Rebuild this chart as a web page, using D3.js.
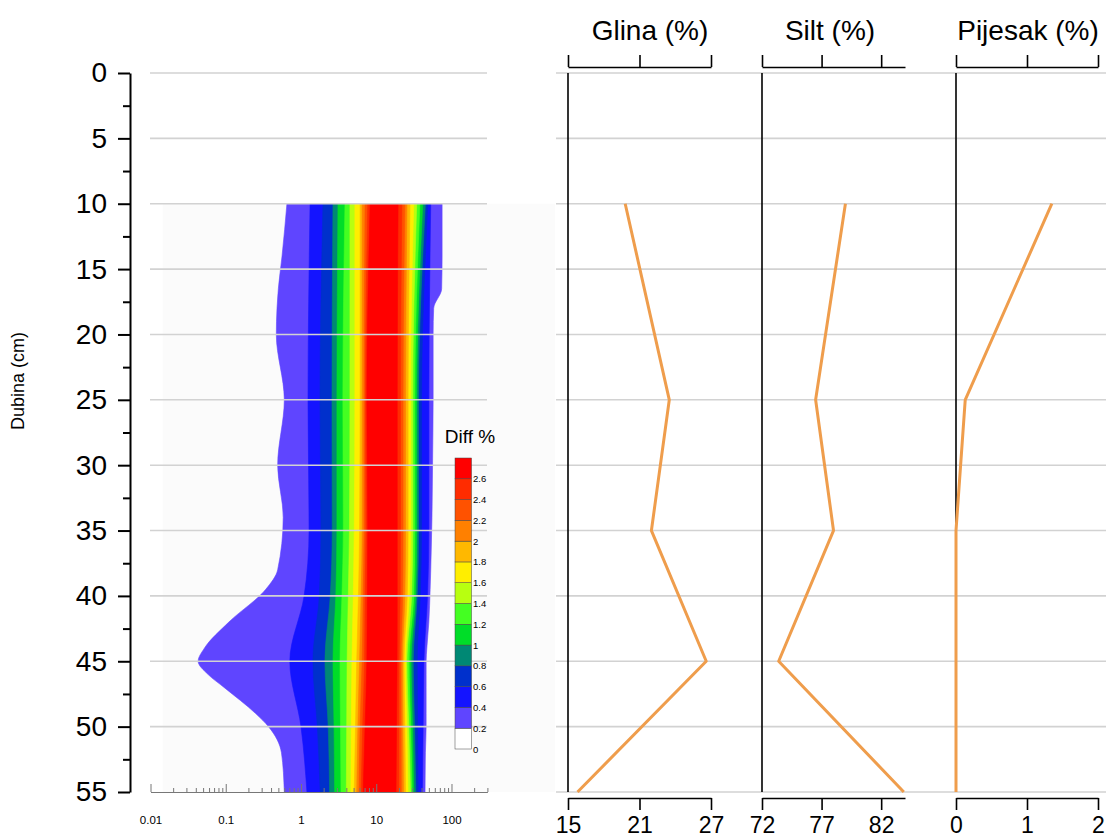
<!DOCTYPE html>
<html><head><meta charset="utf-8">
<script src="https://cdn.jsdelivr.net/npm/d3@7"></script>
<style>
body{margin:0;background:#fff}
svg{display:block}
text{font-family:"Liberation Sans",Arial,Helvetica,sans-serif;fill:#000}
</style>
</head><body>
<svg id="chart" width="1110" height="839"></svg>
<script>
// ---------- data ----------
const depthTicks = [0,5,10,15,20,25,30,35,40,45,50,55];
const depthMinor = [2.5,7.5,12.5,17.5,22.5,27.5,32.5,37.5,42.5,47.5,52.5];

const sampleDepths = [10,25,35,45,55];
const glina   = [19.8, 23.5, 22.0, 26.6, 15.8];
const silt    = [79.0, 76.5, 78.0, 73.4, 83.9];
const pijesak = [1.35, 0.13, 0.0, 0.0, 0.0];

const glinaTicks = [15,21,27];
const siltTicks = [72,77,82];
const pijesakTicks = [0,1,2];

const sizeMajor = [0.01,0.1,1,10,100];
const sizeMinor = [0.02,0.03,0.04,0.05,0.06,0.07,0.08,0.09,
                   0.2,0.3,0.4,0.5,0.6,0.7,0.8,0.9,
                   2,3,4,5,6,7,8,9,20,30,40,50,60,70,80,90,200,300];

// contour levels (Diff %) and colours
const levels = [0,0.2,0.4,0.6,0.8,1.0,1.2,1.4,1.6,1.8,2.0,2.2,2.4,2.6,2.8];
const levelLabels = ["0","0.2","0.4","0.6","0.8","1","1.2","1.4","1.6","1.8","2","2.2","2.4","2.6"];
const levelColors = ["#ffffff","#5f45ff","#1414ff","#0030cc","#008874","#00dd28","#44ff22",
                     "#b8ff10","#ffee00","#ffb800","#ff8000","#ff5200","#ff2c00","#ff0000"];

// outer (0.2 %) contour boundary, particle size in µm
const outerDepths = [10,14,16.5,18,20,25,30,34,38,39.5,42,44,45,46,47,49,50,52,55];
const outerLeft   = [0.65,0.56,0.50,0.48,0.47,0.60,0.49,0.58,0.49,0.34,0.11,0.052,0.043,0.058,0.095,0.25,0.37,0.55,0.60];
const outerRight  = [75,75,74,58,57,57,56,55,53,52,50,47,46,46,46,46,46,45,44.5];

// inner contour boundaries (levels 0.4 .. 2.6), particle size in µm
const innerDepths = [10,25,35,40,45,50,55];
const innerLeft = [
  [1.32,1.24,1.28,1.10,0.71,1.00,1.20],
  [1.96,1.79,1.84,1.75,1.44,1.65,1.80],
  [2.66,2.58,2.60,2.45,2.08,2.30,2.40],
  [3.10,3.00,3.00,2.90,2.66,2.75,2.80],
  [3.84,3.60,3.65,3.50,3.30,3.35,3.40],
  [4.47,4.47,4.40,4.25,4.10,4.05,4.00],
  [5.20,5.20,5.10,4.95,4.75,4.65,4.60],
  [6.10,6.10,6.00,5.80,5.50,5.30,5.10],
  [6.50,6.50,6.50,6.30,6.00,5.70,5.50],
  [7.10,6.90,6.90,6.70,6.50,6.10,5.90],
  [7.70,7.20,7.30,7.10,7.00,6.60,6.30],
  [8.30,7.50,7.70,7.60,7.50,7.10,6.70]
];
const innerRight = [
  [53.0,50.0,50.0,48.0,43.0,42.0,41.0],
  [48.5,40.0,40.0,38.5,35.0,35.5,36.0],
  [45.0,36.5,36.5,35.0,31.0,32.3,33.5],
  [41.5,34.5,34.5,33.3,29.0,30.3,31.5],
  [38.0,32.5,32.5,31.5,27.3,28.7,30.0],
  [34.5,30.5,30.5,29.5,25.6,27.0,28.5],
  [31.5,28.5,28.5,27.5,24.5,25.5,26.5],
  [28.1,26.5,26.5,25.8,23.4,24.0,24.5],
  [25.6,24.5,24.5,24.0,22.3,22.6,23.0],
  [24.0,22.7,22.7,22.4,21.3,21.4,21.5],
  [21.9,21.0,21.0,20.8,20.1,20.0,20.0],
  [19.5,19.0,19.0,19.0,18.9,18.6,18.3]
];
const gridExtent = [0.0145, 2370]; // extent of interpolated grid (µm)

// ---------- drawing ----------
const svg = d3.select("#chart");
const y = d3.scaleLinear().domain([0,55]).range([73,792]);
const xs = d3.scaleLog().domain([0.01,300]).range([150.5,487.4]);

// faint grid background
svg.append("rect")
  .attr("x", xs(gridExtent[0])).attr("y", y(10))
  .attr("width", xs(gridExtent[1]) - xs(gridExtent[0]))
  .attr("height", y(55) - y(10))
  .attr("fill", "#fbfbfb");

// contour bands
const bandArea = d3.area()
  .y(d => y(d.depth))
  .x0(d => xs(d.lo))
  .x1(d => xs(d.hi))
  .curve(d3.curveMonotoneY);

const bands = [];
bands.push({color: levelColors[1], pts: outerDepths.map((d,i)=>({depth:d, lo:outerLeft[i], hi:outerRight[i]}))});
innerLeft.forEach((row,k) => {
  bands.push({color: levelColors[k+2], pts: innerDepths.map((d,i)=>({depth:d, lo:row[i], hi:innerRight[k][i]}))});
});
svg.append("g").selectAll("path").data(bands).join("path")
  .attr("d", b => bandArea(b.pts))
  .attr("fill", b => b.color)
  .attr("stroke", b => b.color)
  .attr("stroke-width", 0.6);

// gridlines
const grid = svg.append("g").attr("stroke", "#d2d2d2").attr("stroke-width", 1.6);
grid.selectAll("line.l").data(depthTicks.filter(d => d < 55)).join("line")
  .attr("x1", 150).attr("x2", 487).attr("y1", d => y(d)).attr("y2", d => y(d));
grid.selectAll("line.r").data(depthTicks).join("line")
  .attr("x1", 556).attr("x2", 1106).attr("y1", d => y(d)).attr("y2", d => y(d));

// left depth axis
const gy = svg.append("g").attr("transform", "translate(130,0)")
  .call(d3.axisLeft(y).tickValues(depthTicks).tickSize(12).tickSizeOuter(0).tickPadding(11));
gy.selectAll("text").attr("font-size", 28).attr("font-family", null);
gy.selectAll("path,line").attr("stroke", "#000").attr("stroke-width", 2);
const gym = svg.append("g").attr("transform", "translate(130,0)")
  .call(d3.axisLeft(y).tickValues(depthMinor).tickSize(7).tickFormat(""));
gym.select("path").remove();
gym.selectAll("line").attr("stroke", "#000").attr("stroke-width", 2);

svg.append("text")
  .attr("transform", "translate(24,381) rotate(-90)")
  .attr("text-anchor", "middle")
  .attr("font-size", 18)
  .text("Dubina (cm)");

// log size axis
const gx = svg.append("g").attr("transform", "translate(0,792)")
  .call(d3.axisBottom(xs).tickValues(sizeMajor).tickSize(-8).tickSizeOuter(0).tickPadding(24)
        .tickFormat(d => String(d)));
gx.selectAll("path,line").attr("stroke", "#777").attr("stroke-width", 1);
gx.selectAll("text").attr("font-size", 11.5).attr("font-family", null);
const gxm = svg.append("g").attr("transform", "translate(0,792)")
  .call(d3.axisBottom(xs).tickValues(sizeMinor).tickSize(-4).tickSizeOuter(0).tickFormat(""));
gxm.select("path").remove();
gxm.selectAll("line").attr("stroke", "#777").attr("stroke-width", 1);

// colour bar
const cb = d3.scaleLinear().domain([0,2.8]).range([749,458]);
const cbg = svg.append("g");
cbg.selectAll("rect").data(levelColors).join("rect")
  .attr("x", 455).attr("width", 16.5)
  .attr("y", (c,i) => cb(levels[i+1]))
  .attr("height", (c,i) => cb(levels[i]) - cb(levels[i+1]))
  .attr("fill", c => c)
  .attr("stroke", "#444").attr("stroke-width", 0.5);
cbg.selectAll("text").data(levelLabels).join("text")
  .attr("x", 473).attr("y", (t,i) => cb(levels[i]) + 3.5)
  .attr("font-size", 9.5)
  .text(t => t);
svg.append("text").attr("x", 470).attr("y", 443).attr("text-anchor", "middle")
  .attr("font-size", 19).text("Diff %");

// profile panels
const panels = [
  {title: "Glina (%)", values: glina, ticks: glinaTicks, scale: d3.scaleLinear().domain([15,27]).range([568,711]), tx: 650},
  {title: "Silt (%)", values: silt, ticks: siltTicks, scale: d3.scaleLinear().domain([72,84]).range([762,905]), tx: 830},
  {title: "Pijesak (%)", values: pijesak, ticks: pijesakTicks, scale: d3.scaleLinear().domain([0,2]).range([956,1098]), tx: 1028}
];
panels.forEach(p => {
  const x = p.scale;
  svg.append("line").attr("x1", x.range()[0]).attr("x2", x.range()[0])
    .attr("y1", y(0)).attr("y2", y(55)).attr("stroke", "#000").attr("stroke-width", 1.6);
  const top = svg.append("g").attr("transform", "translate(0,67)")
    .call(d3.axisTop(x).tickValues(p.ticks).tickSize(12).tickSizeOuter(0).tickFormat(""));
  top.selectAll("path,line").attr("stroke", "#000").attr("stroke-width", 1.6);
  const bot = svg.append("g").attr("transform", "translate(0,798)")
    .call(d3.axisBottom(x).tickValues(p.ticks).tickSize(12).tickSizeOuter(0).tickPadding(7)
          .tickFormat(d => String(d)));
  bot.selectAll("path,line").attr("stroke", "#000").attr("stroke-width", 1.6);
  bot.selectAll("text").attr("font-size", 23).attr("font-family", null);
  svg.append("text").attr("x", p.tx).attr("y", 40).attr("text-anchor", "middle")
    .attr("font-size", 28).text(p.title);
  svg.append("path")
    .datum(sampleDepths.map((d,i) => [x(p.values[i]), y(d)]))
    .attr("d", d3.line())
    .attr("fill", "none").attr("stroke", "#ef9d4c").attr("stroke-width", 3)
    .attr("stroke-linejoin", "round");
});
</script>
</body></html>
